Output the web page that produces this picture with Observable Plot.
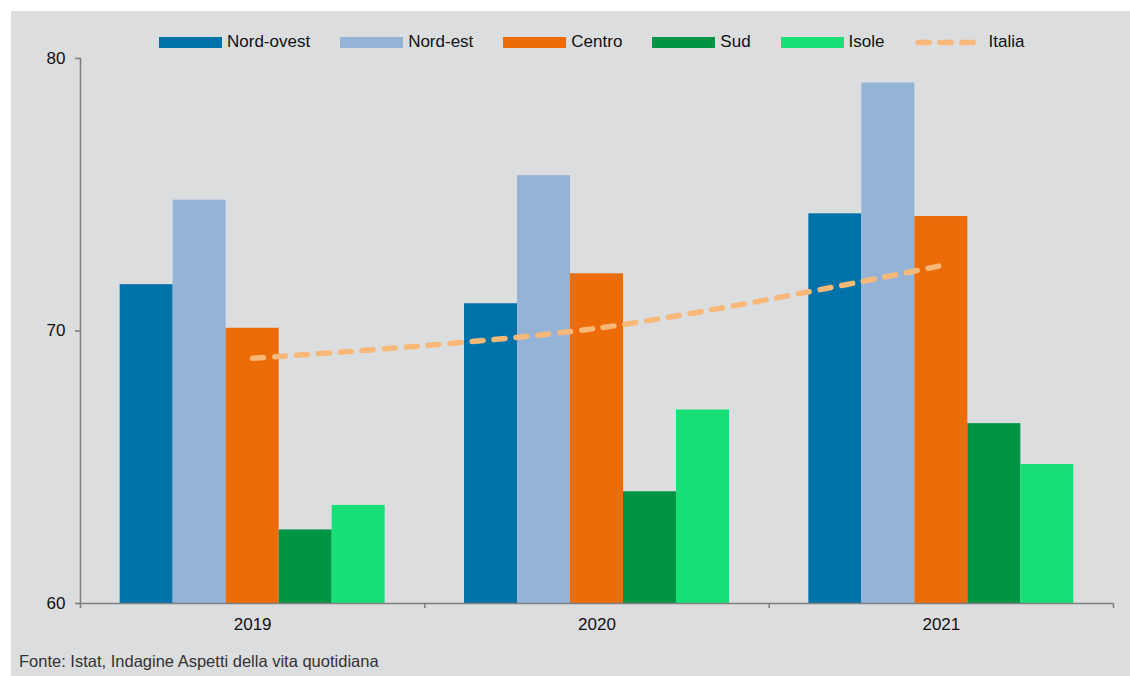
<!DOCTYPE html>
<html><head><meta charset="utf-8">
<script src="https://cdn.jsdelivr.net/npm/d3@7"></script>
<script src="https://cdn.jsdelivr.net/npm/@observablehq/plot@0.6"></script>
<style>
html,body{margin:0;padding:0;background:#fff;width:1130px;height:676px;overflow:hidden}
#panel{position:absolute;left:11px;top:11px;width:1119px;height:665px;background:#dcdddf;font-family:"Liberation Sans",Arial,sans-serif;}
#legend{position:absolute;left:148px;top:22px;display:flex;align-items:center;height:18px;font-size:17px;color:#111;white-space:nowrap}
.item{display:flex;align-items:center;margin-right:30px}
.sw{width:63px;height:11px;margin-right:5px;display:block}
#chart{position:absolute;left:0;top:39px}
#caption{position:absolute;left:8px;top:641px;font-size:16.5px;color:#333;white-space:nowrap}
</style>
</head><body>
<div id="panel">
  <div id="legend"></div>
  <div id="chart"></div>
  <div id="caption">Fonte: Istat, Indagine Aspetti della vita quotidiana</div>
</div>
<script>
const years = ["2019", "2020", "2021"];
const regions = ["Nord-ovest", "Nord-est", "Centro", "Sud", "Isole"];
const nordOvest = [71.7, 71.0, 74.3];
const nordEst = [74.8, 75.7, 79.1];
const centro = [70.1, 72.1, 74.2];
const sud = [62.7, 64.1, 66.6];
const isole = [63.6, 67.1, 65.1];
const italia = [69.0, 70.1, 72.4];
const yTicks = [60, 70, 80];
const colors = ["#0072AA", "#95B3D7", "#EB6C08", "#019445", "#18E077"];
const italiaColor = "#F8B878";
const italiaLabel = "Italia";

const series = [nordOvest, nordEst, centro, sud, isole];
const rows = regions.map((r, i) => years.map((y, j) => ({year: y, region: r, value: series[i][j]})));
const italiaRows = years.map((y, j) => ({year: y, value: italia[j]}));

const W = 1119, H = 600, mL = 69, mR = 17, mT = 8, mB = 47;
const step = (W - mL - mR) / years.length;
const barW = 53;
const pInner = 1 - barW / step;
const axisColor = "#808080";

const chart = Plot.plot({
  width: W, height: H,
  marginLeft: mL, marginRight: mR, marginTop: mT, marginBottom: mB,
  style: {background: "transparent", fontFamily: "'Liberation Sans', Arial, sans-serif", fontSize: "17px", color: "#111"},
  x: {type: "band", domain: years, paddingInner: pInner, paddingOuter: pInner / 2, round: false},
  y: {domain: [60, 80]},
  marks: [
    ...rows.map((data, i) => Plot.barY(data, {x: "year", y1: 60, y2: "value", fill: colors[i], dx: (i - 2) * barW})),
    Plot.line(italiaRows, {x: "year", y: "value", curve: "catmull-rom", stroke: italiaColor, strokeWidth: 5.5, strokeDasharray: "11 11", strokeLinecap: "round"}),
    Plot.frame({anchor: "left", stroke: axisColor, strokeWidth: 1.6}),
    Plot.ruleY([60], {stroke: axisColor, strokeWidth: 1.6}),
    Plot.axisY({ticks: yTicks, tickSize: 5, tickPadding: 10, stroke: axisColor, strokeWidth: 1.6, fill: "#111", label: null}),
    Plot.axisX({ticks: years, tickSize: 0, tickPadding: 14, fill: "#111", label: null}),
    Plot.axisX({ticks: years, tickSize: 5, tickFormat: () => "", dx: -step / 2, stroke: axisColor, strokeWidth: 1.6, label: null}),
    Plot.axisX({ticks: years.slice(-1), tickSize: 5, tickFormat: () => "", dx: step / 2, stroke: axisColor, strokeWidth: 1.6, label: null})
  ]
});
document.getElementById("chart").appendChild(chart);

const legend = document.getElementById("legend");
regions.forEach((r, i) => {
  const it = document.createElement("div");
  it.className = "item";
  it.innerHTML = `<span class="sw" style="background:${colors[i]}"></span><span>${r}</span>`;
  legend.appendChild(it);
});
const it = document.createElement("div");
it.className = "item";
it.innerHTML = `<svg class="sw" width="63" height="11"><line x1="3" x2="58" y1="5.5" y2="5.5" stroke="${italiaColor}" stroke-width="5.5" stroke-dasharray="11 11" stroke-linecap="round"/></svg><span style="margin-left:6px">${italiaLabel}</span>`;
legend.appendChild(it);
</script>
</body></html>
